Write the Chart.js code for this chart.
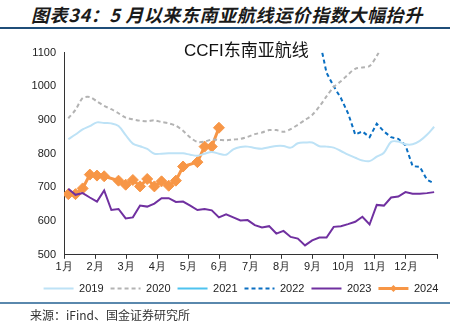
<!DOCTYPE html>
<html>
<head>
<meta charset="utf-8">
<script src="https://cdn.jsdelivr.net/npm/chart.js@4/dist/chart.umd.min.js"></script>
<style>
  body { margin: 0; width: 462px; height: 325px; background: #fff; position: relative; overflow: hidden; font-family: "Liberation Sans", "Noto Sans CJK SC", sans-serif; }
  #title { position: absolute; left: 31px; top: 1px; font-size: 18px; letter-spacing: 0.6px; font-weight: bold; font-style: italic; color: #1a1a1a; font-family: "Noto Sans CJK SC", sans-serif; white-space: nowrap; }
  #rule1 { position: absolute; left: 0; top: 27px; width: 450px; height: 2px; background: #1f4e79; }
  #rule2 { position: absolute; left: 0; top: 302px; width: 450px; height: 2px; background: #5a88ad; }
  #source { position: absolute; left: 30px; top: 306px; font-size: 12px; color: #333; font-family: "Noto Sans CJK SC", sans-serif; white-space: nowrap; }
  #ctitle { position: absolute; left: 184px; top: 36px; font-size: 17px; color: #111; white-space: nowrap; }
  #wrap { position: absolute; left: 20px; top: 38px; width: 442px; height: 266px; }
</style>
</head>
<body>
<div id="title">图表34：5 月以来东南亚航线运价指数大幅抬升</div>
<div id="rule1"></div>
<div id="wrap"><canvas id="myChart"></canvas></div>
<div id="ctitle">CCFI东南亚航线</div>
<div id="rule2"></div>
<div id="source">来源：iFind、国金证券研究所</div>
<script>
// weekly index values, week 0 = first week of January
let monthLabels = ["1月", "2月", "3月", "4月", "5月", "6月", "7月", "8月", "9月", "10月", "11月", "12月", ""];
let yearNames = ["2019", "2020", "2021", "2022", "2023", "2024"];

let s2019 = [843, 857, 872, 882, 893, 891, 890, 882, 855, 830, 822, 814, 800, 800, 801, 801, 801, 797, 794, 800,
  805, 800, 797, 813, 820, 821, 817, 815, 819, 823, 823, 818, 831, 833, 833, 822, 821, 818, 808, 797,
  788, 780, 778, 791, 803, 835, 836, 828, 828, 838, 856, 880];
let s2020 = [905, 930, 965, 968, 955, 942, 932, 920, 907, 902, 898, 896, 899, 894, 890, 883, 868, 848, 835, 836,
  842, 841, 840, 842, 844, 850, 858, 863, 870, 870, 865, 873, 886, 900, 915, 940, 970, 998, 1015, 1035,
  1052, 1056, 1060, 1090, 1130];
let s2021 = []; // above 1100 all year, off the chart
let s2022Start = 35;
let s2022 = [1140, 1040, 1000, 965, 920, 857, 866, 849, 889, 866, 849, 844, 825, 763, 761, 723, 712];
let s2023 = [696, 678, 683, 670, 658, 691, 633, 636, 608, 611, 646, 643, 652, 668, 668, 657, 658, 646, 633, 636,
  632, 611, 620, 611, 602, 603, 588, 581, 585, 563, 571, 553, 548, 528, 543, 551, 551, 583, 585, 591,
  598, 613, 590, 648, 646, 670, 673, 686, 681, 681, 683, 686];
let s2024 = [680, 680, 697, 738, 735, 733, null, 720, 708, 722, 703, 725, 703, 718, 705, 720, 762, null, 775, 821,
  821, 877];

const xMin = -0.6;
const xMax = 51.4;

function toPoints(values, start) {
  let pts = [];
  for (let i = 0; i < values.length; i++) {
    pts.push({ x: start + i, y: values[i] });
  }
  return pts;
}

const data = {
  datasets: [
    { label: yearNames[0], data: toPoints(s2019, 0), borderColor: "#bde2f6", backgroundColor: "#bde2f6", borderWidth: 2, tension: 0.35, pointRadius: 0 },
    { label: yearNames[1], data: toPoints(s2020, 0), borderColor: "#b3b3b3", backgroundColor: "#b3b3b3", borderWidth: 2, borderDash: [4, 3], tension: 0.3, pointRadius: 0 },
    { label: yearNames[2], data: toPoints(s2021, 0), borderColor: "#4ec3ef", backgroundColor: "#4ec3ef", borderWidth: 2, pointRadius: 0 },
    { label: yearNames[3], data: toPoints(s2022, s2022Start), borderColor: "#0a6fc2", backgroundColor: "#0a6fc2", borderWidth: 2, borderDash: [4, 3], pointRadius: 0 },
    { label: yearNames[4], data: toPoints(s2023, 0), borderColor: "#7030a0", backgroundColor: "#7030a0", borderWidth: 2, pointRadius: 0 },
    { label: yearNames[5], data: toPoints(s2024, 0), borderColor: "#f79646", backgroundColor: "#f79646", borderWidth: 3, spanGaps: true,
      pointStyle: "rectRot", pointRadius: 5.5, pointBackgroundColor: "#f79646", pointBorderColor: "#f79646", pointBorderWidth: 1 },
  ],
};

const legendDiamond = {
  id: "legendDiamond",
  afterDraw(chart) {
    let hb = chart.legend.legendHitBoxes[5];
    if (!hb) return;
    let ctx = chart.ctx;
    let cx = hb.left + 15;
    let cy = hb.top + 5.5;
    ctx.save();
    ctx.fillStyle = "#f79646";
    ctx.beginPath();
    ctx.moveTo(cx - 3.5, cy);
    ctx.lineTo(cx, cy - 3.5);
    ctx.lineTo(cx + 3.5, cy);
    ctx.lineTo(cx, cy + 3.5);
    ctx.closePath();
    ctx.fill();
    ctx.restore();
  },
};

const config = {
  type: "line",
  data: data,
  options: {
    responsive: true,
    maintainAspectRatio: false,
    animation: false,
    layout: { padding: { top: 13, right: 0, left: 0, bottom: 0 } },
    plugins: {
      legend: {
        position: "bottom",
        labels: { boxWidth: 30, boxHeight: 0, padding: 7, color: "#222", font: { size: 11, family: "Liberation Sans" } },
      },
      tooltip: { enabled: false },
    },
    scales: {
      x: {
        type: "linear",
        min: xMin,
        max: xMax,
        afterBuildTicks: function (scale) {
          scale.ticks = monthLabels.map((m, k) => ({ value: xMin + (k * 52) / 12 }));
        },
        ticks: {
          autoSkip: false,
          maxRotation: 0,
          padding: 2,
          color: "#222",
          font: { size: 11, family: "Liberation Sans" },
          callback: function (value, index) {
            return monthLabels[index];
          },
        },
        grid: { drawOnChartArea: false, drawTicks: true, tickLength: 4, color: "#333" },
        border: { color: "#333", width: 1 },
      },
      y: {
        min: 500,
        max: 1100,
        afterFit: function (scale) {
          scale.width = 44;
        },
        ticks: {
          stepSize: 100,
          padding: 8,
          color: "#222",
          font: { size: 11, family: "Liberation Sans" },
          callback: function (value) {
            return String(value);
          },
        },
        grid: { drawOnChartArea: false, drawTicks: false },
        border: { color: "#333", width: 1 },
      },
      // empty right-hand spacer so the legend centres like the original
      yRight: {
        position: "right",
        min: 500,
        max: 1100,
        afterFit: function (scale) {
          scale.width = 25;
        },
        ticks: { display: false },
        grid: { display: false, drawTicks: false },
        border: { display: false },
      },
    },
  },
  plugins: [legendDiamond],
};

let myChart = new Chart(document.getElementById("myChart"), config);
</script>
</body>
</html>
